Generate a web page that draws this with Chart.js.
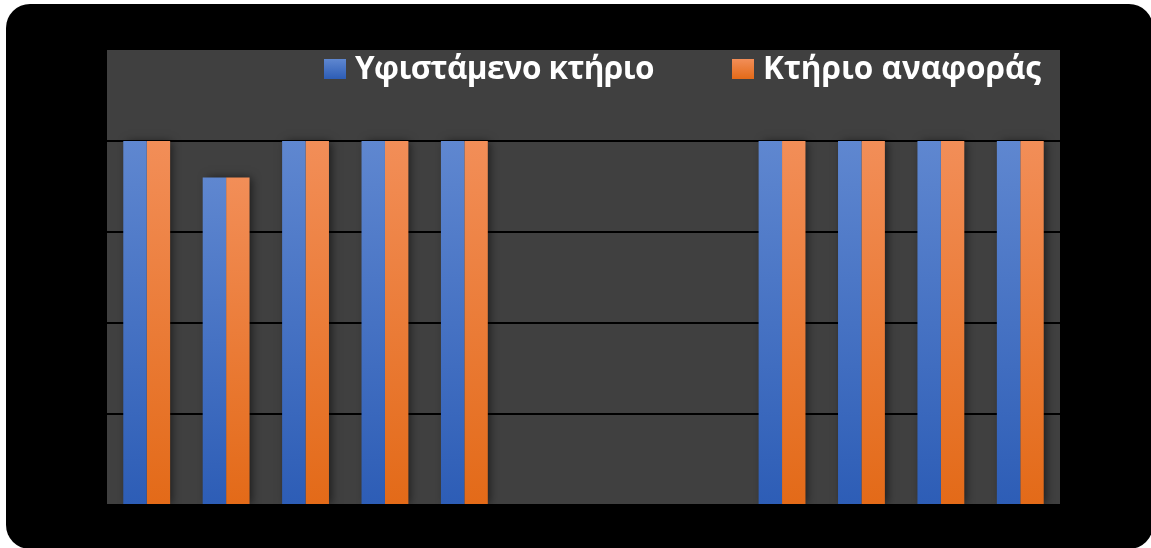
<!DOCTYPE html>
<html>
<head>
<meta charset="utf-8">
<script src="https://cdn.jsdelivr.net/npm/chart.js@4.4.1/dist/chart.umd.min.js"></script>
<style>
  html, body { margin: 0; padding: 0; background: #fff; }
  #frame {
    position: absolute; left: 6px; top: 4px; width: 1147px; height: 545px;
    background: #000; border-radius: 24px;
  }
  #wrap { position: absolute; left: 0; top: 0; width: 1151px; height: 548px; }
  .item {
    position: absolute; top: 52px; white-space: nowrap;
    font: bold 31.5px/30px "Open Sans", sans-serif; color: #fff;
  }
  #leg0 .txt { letter-spacing: -0.6px; }
  .box { display: inline-block; width: 22px; height: 20px; margin-right: 9px; vertical-align: baseline; }
</style>
</head>
<body>
<div id="frame"></div>
<div id="wrap"><canvas id="chart"></canvas></div>
<div class="item" id="leg0" style="left:324px"><span class="box"></span><span class="txt"></span></div>
<div class="item" id="leg1" style="left:732px"><span class="box"></span><span class="txt"></span></div>
<script>
var labels = ["1", "2", "3", "4", "5", "6", "7", "8", "9", "10", "11", "12"];
var seriesNames = ["Υφιστάμενο κτήριο", "Κτήριο αναφοράς"];
var existing = [4, 3.6, 4, 4, 4, 0, 0, 0, 4, 4, 4, 4];
var reference = [4, 3.6, 4, 4, 4, 0, 0, 0, 4, 4, 4, 4];

var blue = ["#5f87d0", "#2d5db6"];
var orange = ["#f28e58", "#e36a18"];

// vertical gradient spanning each bar from its top to the baseline
function barFill(colors) {
  return function(ctx) {
    var chart = ctx.chart;
    if (!chart.chartArea || !ctx.parsed) return colors[1];
    var y = chart.scales.y;
    var top = y.getPixelForValue(ctx.parsed.y);
    var bottom = y.getPixelForValue(0);
    if (bottom - top < 1) return colors[1];
    var g = chart.ctx.createLinearGradient(0, top, 0, bottom);
    g.addColorStop(0, colors[0]);
    g.addColorStop(1, colors[1]);
    return g;
  };
}

function legendFill(colors) {
  return "linear-gradient(" + colors[0] + "," + colors[1] + ")";
}

[blue, orange].forEach(function(c, i) {
  var el = document.getElementById("leg" + i);
  el.querySelector(".box").style.background = legendFill(c);
  el.querySelector(".txt").textContent = seriesNames[i];
});

var plotBg = {
  id: "plotBg",
  beforeDraw: function(chart) {
    var a = chart.chartArea, ctx = chart.ctx;
    ctx.save();
    ctx.fillStyle = "#404040";
    ctx.fillRect(a.left, a.top, a.right - a.left, a.bottom - a.top - 1);
    ctx.restore();
  }
};

// soft shadow behind each pair of bars, so one series doesn't shade the other
var groupShadow = {
  id: "groupShadow",
  beforeDatasetsDraw: function(chart) {
    var ctx = chart.ctx;
    var first = chart.getDatasetMeta(0).data;
    var last = chart.getDatasetMeta(chart.data.datasets.length - 1).data;
    ctx.save();
    ctx.shadowColor = "rgba(0,0,0,0.6)";
    ctx.shadowBlur = 9;
    ctx.shadowOffsetX = 3;
    ctx.fillStyle = "#333";
    first.forEach(function(a, i) {
      var b = last[i];
      var top = Math.min(a.y, b.y);
      var h = a.base - top;
      if (h < 1) return;
      var left = a.x - a.width / 2;
      var right = b.x + b.width / 2;
      ctx.fillRect(left + 1, top + 1, right - left - 2, h - 1);
    });
    ctx.restore();
  }
};

new Chart(document.getElementById("chart"), {
  type: "bar",
  data: {
    labels: labels,
    datasets: [
      { label: seriesNames[0], data: existing, backgroundColor: barFill(blue) },
      { label: seriesNames[1], data: reference, backgroundColor: barFill(orange) }
    ]
  },
  options: {
    responsive: true,
    maintainAspectRatio: false,
    animation: false,
    layout: { padding: { left: 107, right: 91, top: 50, bottom: 43 } },
    datasets: { bar: { categoryPercentage: 0.59, barPercentage: 1, borderWidth: 0 } },
    plugins: { legend: { display: false }, tooltip: { enabled: false } },
    scales: {
      x: { display: false },
      y: {
        min: 0, max: 5,
        ticks: { display: false, stepSize: 1 },
        border: { display: false },
        grid: {
          lineWidth: 2,
          drawTicks: false,
          color: function(c) { return (c.tick.value > 0 && c.tick.value < 5) ? "#000" : "rgba(0,0,0,0)"; }
        },
        afterFit: function(s) { s.width = 0; }
      }
    }
  },
  plugins: [plotBg, groupShadow]
});
</script>
</body>
</html>
